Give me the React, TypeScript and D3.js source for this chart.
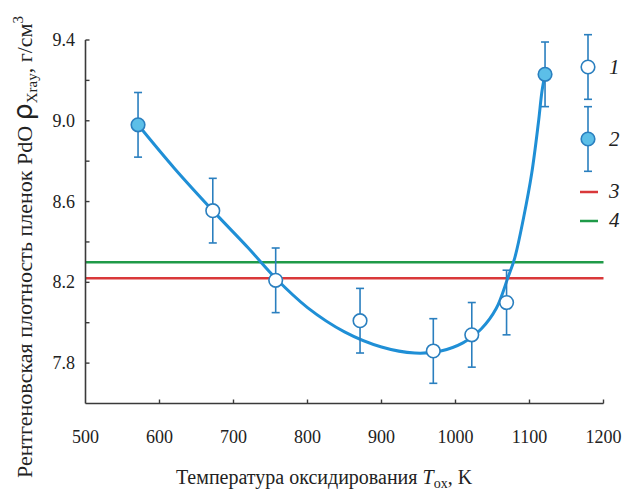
import React from "react";
import * as d3 from "d3";

const W = 625;
const H = 492;

// Series 1 (open markers)
const s1T = [672, 757, 871, 970, 1022, 1069];
const s1Rho = [8.555, 8.21, 8.01, 7.86, 7.94, 8.1];
// Series 2 (filled markers)
const s2T = [571, 1121];
const s2Rho = [8.98, 9.23];
const errHalf = 0.16;

// Fitted curve
const curveT = [571, 620, 672, 720, 757, 800, 850, 900, 945, 980, 1010, 1035, 1055, 1071, 1080, 1092, 1103, 1112, 1117, 1121];
const curveRho = [8.98, 8.765, 8.555, 8.37, 8.22, 8.075, 7.955, 7.88, 7.85, 7.86, 7.9, 7.97, 8.07, 8.225, 8.32, 8.52, 8.74, 8.99, 9.15, 9.23];

const line3 = 8.22; // red
const line4 = 8.3; // green

const xTicks = [500, 600, 700, 800, 900, 1000, 1100, 1200];
const yTicks = [7.8, 8.0, 8.2, 8.4, 8.6, 8.8, 9.0, 9.2, 9.4];
const yLabels = [7.8, 8.2, 8.6, 9.0, 9.4];

const BLUE = "#1f8fd6";
const MARK = "#2a7fbf";
const FILL = "#5cbfe8";
const RED = "#d9383a";
const GREEN = "#1f9a48";
const AX = "#3a3a3a";
const SERIF = "'Liberation Serif', 'DejaVu Serif', serif";

export default function App() {
  const x = d3.scaleLinear().domain([500, 1200]).range([85.5, 603.5]);
  const y = d3.scaleLinear().domain([7.6, 9.4]).range([403.5, 40]);

  const curvePts: [number, number][] = curveT.map((t, i) => [t, curveRho[i]]);
  const path = d3
    .line<[number, number]>()
    .x((d) => x(d[0]))
    .y((d) => y(d[1]))
    .curve(d3.curveCatmullRom.alpha(0.5))(curvePts) as string;

  const x0 = x(500);
  const x1 = x(1200);
  const yBottom = y(7.6);
  const yTop = y(9.4);
  const eh = y(8) - y(8 + errHalf);

  const errBar = (cx: number, cy: number, key: string) => (
    <g key={key} stroke={MARK} strokeWidth={1.6}>
      <line x1={cx} x2={cx} y1={cy - eh} y2={cy + eh} />
      <line x1={cx - 4} x2={cx + 4} y1={cy - eh} y2={cy - eh} />
      <line x1={cx - 4} x2={cx + 4} y1={cy + eh} y2={cy + eh} />
    </g>
  );

  return (
    <svg width={W} height={H} style={{ position: "absolute", left: 0, top: 0, background: "#fff" }}>
      {/* reference lines */}
      <line x1={x0} x2={x1} y1={y(line4)} y2={y(line4)} stroke={GREEN} strokeWidth={2.5} />
      <line x1={x0} x2={x1} y1={y(line3)} y2={y(line3)} stroke={RED} strokeWidth={2.5} />

      {/* axes */}
      <line x1={x0} x2={x0} y1={yTop} y2={yBottom} stroke={AX} strokeWidth={1.6} />
      <line x1={x0} x2={x1} y1={yBottom} y2={yBottom} stroke={AX} strokeWidth={1.6} />
      {yTicks.map((v) => (
        <line key={"yt" + v} x1={x0} x2={x0 + 4} y1={y(v)} y2={y(v)} stroke={AX} strokeWidth={1.4} />
      ))}
      {xTicks.slice(1).map((v) => (
        <line key={"xt" + v} x1={x(v)} x2={x(v)} y1={yBottom} y2={yBottom - 4} stroke={AX} strokeWidth={1.4} />
      ))}
      {yLabels.map((v) => (
        <text key={"yl" + v} x={75} y={y(v) + 6} textAnchor="end" fontFamily={SERIF} fontSize={18} fill="#222">
          {v.toFixed(1)}
        </text>
      ))}
      {xTicks.map((v) => (
        <text key={"xl" + v} x={x(v)} y={443} textAnchor="middle" fontFamily={SERIF} fontSize={18} fill="#222">
          {v}
        </text>
      ))}

      {/* axis titles */}
      <text x={324} y={484} textAnchor="middle" fontFamily={SERIF} fontSize={20} fill="#222">
        Температура оксидирования{" "}
        <tspan fontStyle="italic">T</tspan>
        <tspan fontSize={14} dy={4}>ox</tspan>
        <tspan dy={-4}>, K</tspan>
      </text>
      <text
        transform="translate(32,247) rotate(-90)"
        textAnchor="middle"
        fontFamily={SERIF}
        fontSize={22}
        fill="#222"
      >
        Рентгеновская плотность пленок PdO{" "}
        <tspan fontFamily="'DejaVu Sans', sans-serif" fontSize={27}>ρ</tspan>
        <tspan fontSize={15} dy={5}>Xray</tspan>
        <tspan dy={-5}>, г/см</tspan>
        <tspan fontSize={15} dy={-9}>3</tspan>
      </text>

      {/* fitted curve */}
      <path d={path} fill="none" stroke={BLUE} strokeWidth={3} />

      {/* error bars and markers */}
      {s1T.map((t, i) => errBar(x(t), y(s1Rho[i]), "e1" + i))}
      {s2T.map((t, i) => errBar(x(t), y(s2Rho[i]), "e2" + i))}
      {s1T.map((t, i) => (
        <circle key={"m1" + i} cx={x(t)} cy={y(s1Rho[i])} r={6.8} fill="#fff" stroke={MARK} strokeWidth={1.6} />
      ))}
      {s2T.map((t, i) => (
        <circle key={"m2" + i} cx={x(t)} cy={y(s2Rho[i])} r={6.8} fill={FILL} stroke={MARK} strokeWidth={1.6} />
      ))}

      {/* legend */}
      {errBar(588, 67, "le1")}
      <circle cx={588} cy={67} r={6.8} fill="#fff" stroke={MARK} strokeWidth={1.6} />
      <text x={609} y={74} fontFamily={SERIF} fontStyle="italic" fontSize={21} fill="#222">1</text>
      {errBar(588, 139, "le2")}
      <circle cx={588} cy={139} r={6.8} fill={FILL} stroke={MARK} strokeWidth={1.6} />
      <text x={609} y={146} fontFamily={SERIF} fontStyle="italic" fontSize={21} fill="#222">2</text>
      <line x1={580} x2={598} y1={192} y2={192} stroke={RED} strokeWidth={2.5} />
      <text x={609} y={198} fontFamily={SERIF} fontStyle="italic" fontSize={21} fill="#222">3</text>
      <line x1={580} x2={598} y1={221} y2={221} stroke={GREEN} strokeWidth={2.5} />
      <text x={609} y={227} fontFamily={SERIF} fontStyle="italic" fontSize={21} fill="#222">4</text>
    </svg>
  );
}
